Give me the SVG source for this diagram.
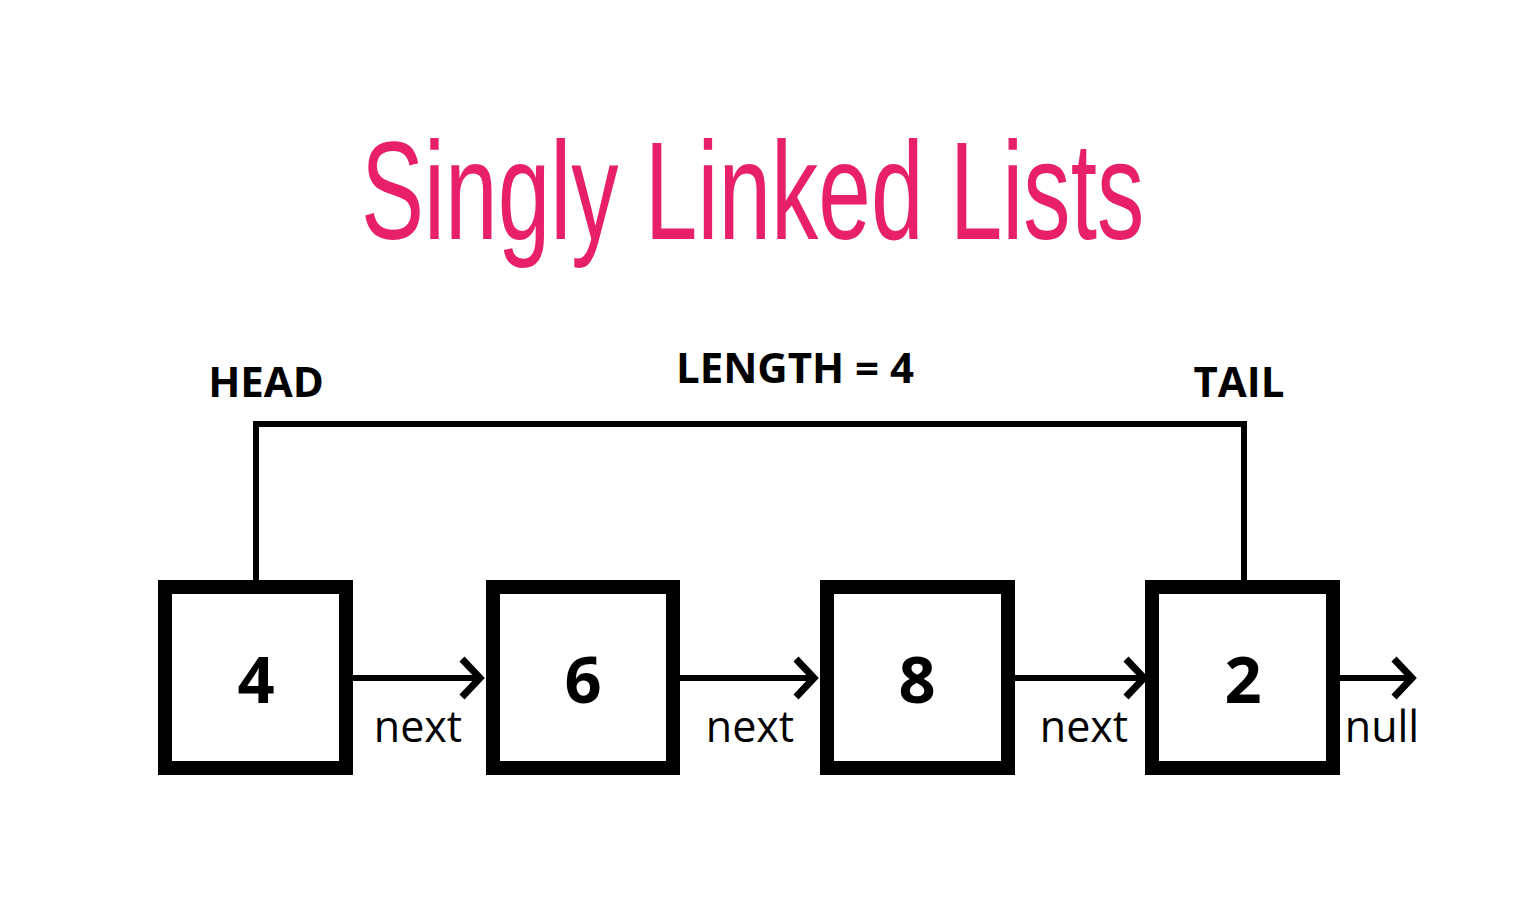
<svg xmlns="http://www.w3.org/2000/svg" width="1514" height="910" viewBox="0 0 1514 910">
  <style>
    .title { font-family: "Liberation Sans", "DejaVu Sans", sans-serif; font-size: 140px; fill: #E8206A; }
    .lbl { font-family: "Open Sans", "Liberation Sans", sans-serif; font-weight: bold; font-size: 42px; fill: #000; text-anchor: middle; }
    .val { font-family: "Open Sans", "Liberation Sans", sans-serif; font-weight: bold; font-size: 65px; fill: #000; text-anchor: middle; }
    .ptr { font-family: "Open Sans", "Liberation Sans", sans-serif; font-size: 43px; fill: #000; text-anchor: middle; }
    .box { fill: #fff; stroke: #000; stroke-width: 14; }
    .conn { fill: none; stroke: #000; stroke-width: 6; }
  </style>
  <defs>
    <marker id="chev" viewBox="0 0 26 44" refX="22" refY="22" markerWidth="26" markerHeight="44" markerUnits="userSpaceOnUse" orient="auto">
      <path d="M3,3 L21,22 L3,41" fill="none" stroke="#000" stroke-width="7"/>
    </marker>
  </defs>
  <rect width="1514" height="910" fill="#fff"/>

  <text id="title" class="title" transform="translate(361,239) scale(0.666,1)" x="0" y="0" textLength="1176" lengthAdjust="spacingAndGlyphs">Singly Linked Lists</text>

  <g id="connectors">
    <path id="bracket" class="conn" d="M256,580 V424 H1244 V580"/>
    <path class="conn" d="M353,678 H481" marker-end="url(#chev)"/>
    <path class="conn" d="M680,678 H815" marker-end="url(#chev)"/>
    <path class="conn" d="M1015,678 H1145" marker-end="url(#chev)"/>
    <path class="conn" d="M1340,678 H1413" marker-end="url(#chev)"/>
  </g>

  <g id="labels">
    <text class="lbl" x="266" y="397">HEAD</text>
    <text class="lbl" x="795" y="383">LENGTH = 4</text>
    <text class="lbl" x="1239" y="397">TAIL</text>
    <text class="ptr" x="418" y="742">next</text>
    <text class="ptr" x="750" y="742">next</text>
    <text class="ptr" x="1084" y="742">next</text>
    <text class="ptr" x="1382" y="742">null</text>
  </g>

  <g id="node-4">
    <rect class="box" x="165" y="587" width="181" height="181"/>
    <text class="val" x="256" y="703">4</text>
  </g>
  <g id="node-6">
    <rect class="box" x="493" y="587" width="180" height="181"/>
    <text class="val" x="583" y="703">6</text>
  </g>
  <g id="node-8">
    <rect class="box" x="827" y="587" width="181" height="181"/>
    <text class="val" x="917" y="703">8</text>
  </g>
  <g id="node-2">
    <rect class="box" x="1152" y="587" width="181" height="181"/>
    <text class="val" x="1243" y="703">2</text>
  </g>
</svg>
